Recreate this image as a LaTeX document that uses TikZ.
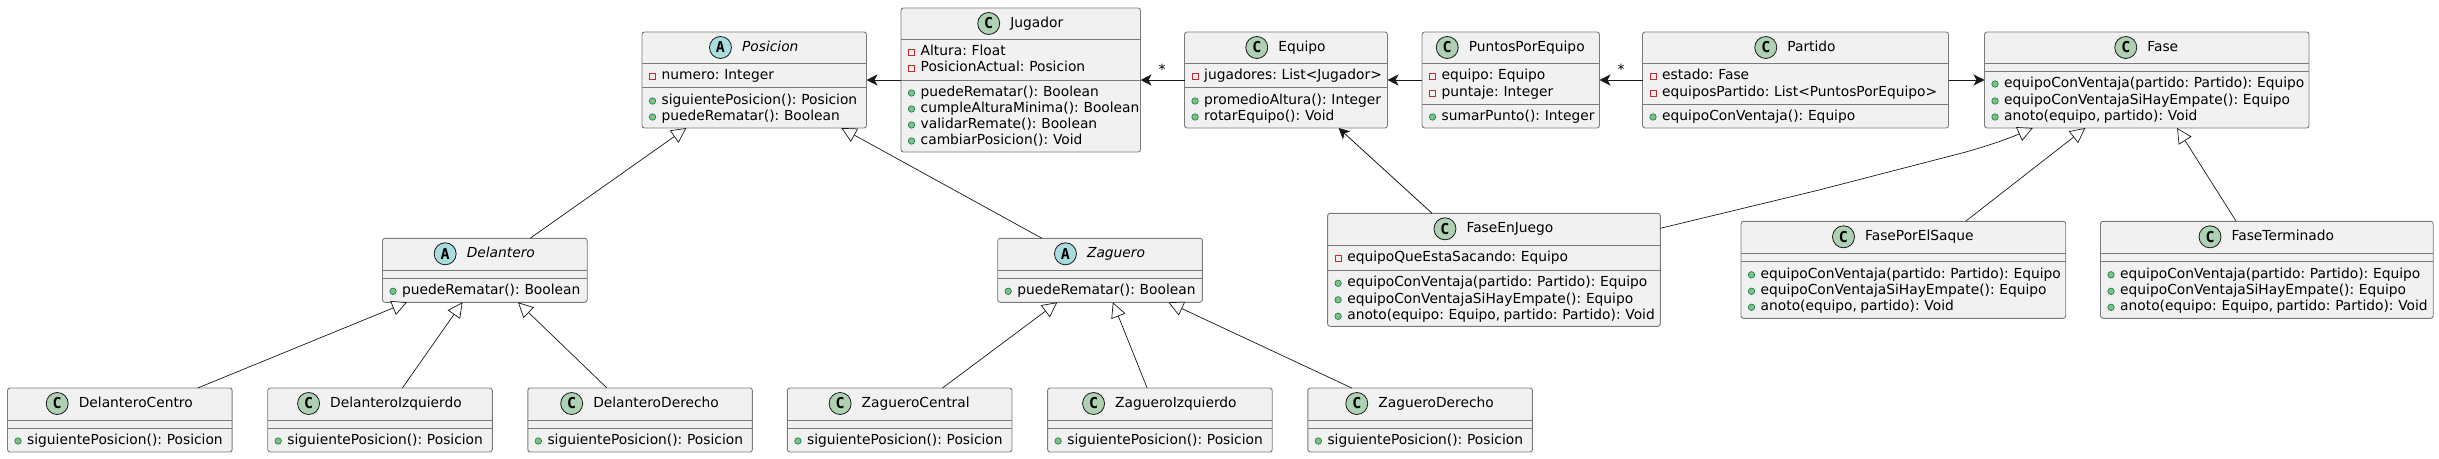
\documentclass[tikz,border=0pt]{standalone}
\usepackage{fontspec}
\setmainfont{DejaVu Sans}[WordSpace=0.75]
\newfontfamily\iconfont{DejaVu Sans Mono}
\usetikzlibrary{positioning}
\usetikzlibrary{calc}
\usetikzlibrary{arrows.meta}

\definecolor{umlline}{HTML}{181818}
\definecolor{umlborder}{HTML}{7A7A7A}
\definecolor{umlfill}{HTML}{F1F1F1}
\definecolor{umlgreen}{HTML}{ADD1B2}
\definecolor{umlblue}{HTML}{A9DCDF}
\definecolor{privred}{HTML}{C82930}
\definecolor{publine}{HTML}{038048}
\definecolor{pubfill}{HTML}{84BE84}

\tikzset{
  umlbox/.style={draw=umlborder,fill=umlfill,line width=.9pt,rounded corners=2.5pt,
    rectangle,inner sep=0pt,outer sep=0pt,anchor=north west},
  umlsep/.style={draw=umlborder,line width=.9pt},
  umltitle/.style={inner sep=0pt,text height=11pt,text depth=3pt,font=\fontsize{13.8}{16}\selectfont},
  member/.style={inner sep=0pt,anchor=base west,font=\fontsize{13.8}{16}\selectfont},
  classicon/.style={circle,draw=umlline,line width=.8pt,fill=umlgreen,minimum size=22pt,inner sep=0pt,
    font=\iconfont\bfseries\fontsize{15}{15}\selectfont},
  abstracticon/.style={classicon,fill=umlblue},
  priv/.style={rectangle,draw=privred,line width=.8pt,fill=none,minimum size=6pt,inner sep=0pt},
  pub/.style={circle,draw=publine,line width=.6pt,fill=pubfill,minimum size=6.5pt,inner sep=0pt},
  assoc/.style={draw=umlline,line width=.8pt,-{Stealth[length=11pt,width=11pt,inset=3pt]}},
  inherit/.style={draw=umlline,line width=.7pt,-{Triangle[length=15pt,width=15pt,fill=white]}},
  mult/.style={inner sep=0pt,font=\fontsize{14}{16}\selectfont},
}

% name, left, top, width, height, first line, second line, title
\newcommand{\umlclass}[8]{
  \node[umlbox,minimum width=#4pt,minimum height=#5pt] (#1) at (#2,#3) {};
  \draw[umlsep] ($(#1.north west)+(0,#6)$) -- ($(#1.north east)+(0,#6)$);
  \draw[umlsep] ($(#1.north west)+(0,#7)$) -- ($(#1.north east)+(0,#7)$);
  \node[umltitle] (#1-t) at ($(#1.north)+(16,15.5)$) {#8};
}
% style, class, row centre below the top, text
\newcommand{\umlmember}[4]{
  \node[member] (#2-#3) at ($(#2.north west)+(19.5,#3+4.5)$) {#4};
  \node[#1] (#2-#3-i) at ($(#2.north west)+(10.5,#3+1)$) {};
}

\begin{document}
\begin{tikzpicture}[x=1pt,y=-1pt]

\useasboundingbox (0,0) rectangle (2439,458);

% top row
\umlclass{posicion}{642}{32}{224.5}{96}{31}{55}{\itshape Posicion}
\node[abstracticon,left=10pt of posicion-t] (posicion-c) {A};
\umlmember{priv}{posicion}{43}{numero: Integer}
\umlmember{pub}{posicion}{68}{siguientePosicion(): Posicion}
\umlmember{pub}{posicion}{84}{puedeRematar(): Boolean}

\umlclass{jugador}{901}{8}{239.5}{144}{31}{72}{Jugador}
\node[classicon,left=10pt of jugador-t] (jugador-c) {C};
\umlmember{priv}{jugador}{43}{Altura: Float}
\umlmember{priv}{jugador}{59}{PosicionActual: Posicion}
\umlmember{pub}{jugador}{84}{puedeRematar(): Boolean}
\umlmember{pub}{jugador}{100}{cumpleAlturaMinima(): Boolean}
\umlmember{pub}{jugador}{116}{validarRemate(): Boolean}
\umlmember{pub}{jugador}{132}{cambiarPosicion(): Void}

\umlclass{equipo}{1184.5}{32}{203}{96}{31}{55}{Equipo}
\node[classicon,left=10pt of equipo-t] (equipo-c) {C};
\umlmember{priv}{equipo}{43}{jugadores: List<Jugador>}
\umlmember{pub}{equipo}{68}{promedioAltura(): Integer}
\umlmember{pub}{equipo}{84}{rotarEquipo(): Void}

\umlclass{puntos}{1422}{32}{177.5}{96}{31}{72}{PuntosPorEquipo}
\node[classicon,left=10pt of puntos-t] (puntos-c) {C};
\umlmember{priv}{puntos}{43}{equipo: Equipo}
\umlmember{priv}{puntos}{60}{puntaje: Integer}
\umlmember{pub}{puntos}{84}{sumarPunto(): Integer}

\umlclass{partido}{1642.5}{32}{306}{96}{31}{72}{Partido}
\node[classicon,left=10pt of partido-t] (partido-c) {C};
\umlmember{priv}{partido}{43}{estado: Fase}
\umlmember{priv}{partido}{60}{equiposPartido: List<PuntosPorEquipo>}
\umlmember{pub}{partido}{84}{equipoConVentaja(): Equipo}

\umlclass{fase}{1984.5}{32}{324.5}{96}{31}{39}{Fase}
\node[classicon,left=10pt of fase-t] (fase-c) {C};
\umlmember{pub}{fase}{51}{equipoConVentaja(partido: Partido): Equipo}
\umlmember{pub}{fase}{68}{equipoConVentajaSiHayEmpate(): Equipo}
\umlmember{pub}{fase}{84}{anoto(equipo, partido): Void}

% abstract positions
\umlclass{delantero}{382.5}{238.3}{204.7}{64}{32}{40}{\itshape Delantero}
\node[abstracticon,left=10pt of delantero-t] (delantero-c) {A};
\umlmember{pub}{delantero}{52}{puedeRematar(): Boolean}

\umlclass{zaguero}{997.7}{238.3}{204.7}{64}{32}{40}{\itshape Zaguero}
\node[abstracticon,left=10pt of zaguero-t] (zaguero-c) {A};
\umlmember{pub}{zaguero}{52}{puedeRematar(): Boolean}

% concrete positions
\foreach \cname/\cleft/\ctitle in {
  delcentro/7.5/DelanteroCentro,
  delizq/267.7/DelanteroIzquierdo,
  delder/527.8/DelanteroDerecho,
  zagcentral/787.4/ZagueroCentral,
  zagizq/1047.6/ZagueroIzquierdo,
  zagder/1307.8/ZagueroDerecho}
{
  \umlclass{\cname}{\cleft}{388}{224.6}{64}{32}{40}{\ctitle}
  \node[classicon,left=10pt of \cname-t] (\cname-c) {C};
  \umlmember{pub}{\cname}{52}{siguientePosicion(): Posicion}
}

% phases
\umlclass{faseenjuego}{1327.6}{213.3}{332.7}{113}{32}{57}{FaseEnJuego}
\node[classicon,left=10pt of faseenjuego-t] (faseenjuego-c) {C};
\umlmember{priv}{faseenjuego}{44}{equipoQueEstaSacando: Equipo}
\umlmember{pub}{faseenjuego}{69}{equipoConVentaja(partido: Partido): Equipo}
\umlmember{pub}{faseenjuego}{85.5}{equipoConVentajaSiHayEmpate(): Equipo}
\umlmember{pub}{faseenjuego}{102}{anoto(equipo: Equipo, partido: Partido): Void}

\umlclass{faseporsaque}{1741}{221.3}{324.7}{97}{32}{40}{FasePorElSaque}
\node[classicon,left=10pt of faseporsaque-t] (faseporsaque-c) {C};
\umlmember{pub}{faseporsaque}{52.5}{equipoConVentaja(partido: Partido): Equipo}
\umlmember{pub}{faseporsaque}{69}{equipoConVentajaSiHayEmpate(): Equipo}
\umlmember{pub}{faseporsaque}{85}{anoto(equipo, partido): Void}

\umlclass{faseterminado}{2100.5}{221.3}{332.7}{97}{32}{40}{FaseTerminado}
\node[classicon,left=10pt of faseterminado-t] (faseterminado-c) {C};
\umlmember{pub}{faseterminado}{52.5}{equipoConVentaja(partido: Partido): Equipo}
\umlmember{pub}{faseterminado}{69}{equipoConVentajaSiHayEmpate(): Equipo}
\umlmember{pub}{faseterminado}{85}{anoto(equipo: Equipo, partido: Partido): Void}

% associations
\draw[assoc] (jugador.west |- 0,80) -- (posicion.east |- 0,80);
\draw[assoc] (equipo.west |- 0,80) -- (jugador.east |- 0,80);
\draw[assoc] (puntos.west) -- (equipo.east);
\draw[assoc] (partido.west) -- (puntos.east);
\draw[assoc] (partido.east) -- (fase.west);
\draw[assoc] (faseenjuego) -- (equipo);
\node[mult] (mult1) at (1162,69) {*};
\node[mult] (mult2) at (1621,69) {*};

% inheritance
\draw[inherit] (delantero) -- (posicion);
\draw[inherit] (zaguero) -- (posicion);
\draw[inherit] (delcentro) -- (delantero);
\draw[inherit] (delizq) -- (delantero);
\draw[inherit] (delder) -- (delantero);
\draw[inherit] (zagcentral) -- (zaguero);
\draw[inherit] (zagizq) -- (zaguero);
\draw[inherit] (zagder) -- (zaguero);
\draw[inherit] (faseporsaque) -- (fase);
\draw[inherit] (faseterminado) -- (fase);
\draw[inherit] ($(faseenjuego.north east)+(0,15)$) -- (1819,190) -- (1962,153)
  .. controls (1985,147) and (2010,138) .. ($(fase.south)+(-114,0)$);

\end{tikzpicture}
\end{document}
